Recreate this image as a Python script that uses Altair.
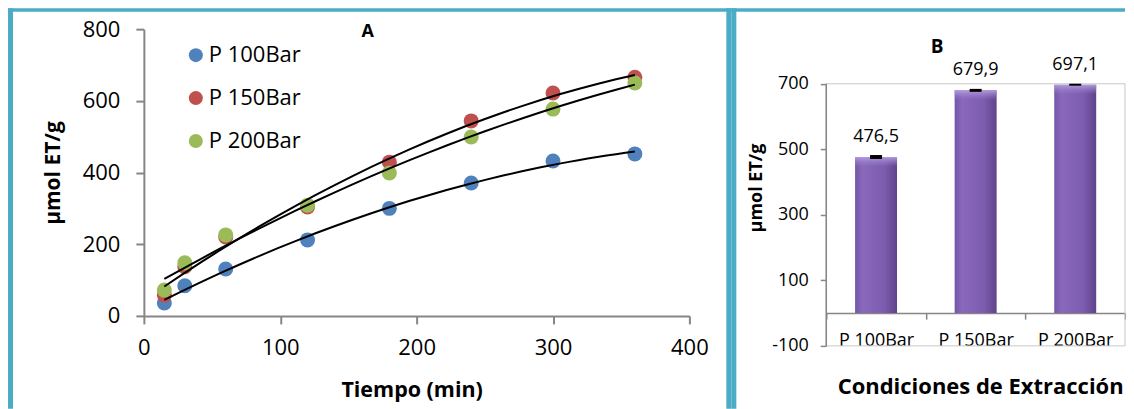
import altair as alt
import pandas as pd

# ---------------- data ----------------
times = [15, 30, 60, 120, 180, 240, 300, 360]
series_names = ["P 100Bar", "P 150Bar", "P 200Bar"]
p100 = [36, 84, 131, 212, 300, 371, 432, 452]
p150 = [58, 137, 220, 304, 429, 544, 622, 666]
p200 = [72, 148, 226, 309, 399, 499, 577, 650]
series_colors = ["#4F81BD", "#C0504D", "#9BBB59"]
x_ticks = [0, 100, 200, 300, 400]
y_ticks = [0, 200, 400, 600, 800]

bar_cats = ["P 100Bar", "P 150Bar", "P 200Bar"]
bar_values = [476.5, 679.9, 697.1]
bar_errors = [6, 4.5, 3]
bar_labels = ["476,5", "679,9", "697,1"]
b_ticks = [-100, 100, 300, 500, 700]

CYAN = "#4BACC6"
AXIS_GRAY = "#868686"
FONT = "Open Sans"

rows = []
for name, vals in zip(series_names, [p100, p150, p200]):
    for t, v in zip(times, vals):
        rows.append({"series": name, "t": t, "v": v})
df = pd.DataFrame(rows)

one = pd.DataFrame({"k": [0]})


def band(x, x2, y, y2, color=CYAN):
    return alt.Chart(one).mark_rect(color=color).encode(
        x=alt.value(x), x2=alt.value(x2), y=alt.value(y), y2=alt.value(y2)
    )


BOTTOM = 380

# ---------------- panel A ----------------
W1, H1 = 546, 287
xA = alt.X(
    "t:Q",
    scale=alt.Scale(domain=[0, 400], nice=False),
    axis=alt.Axis(
        values=x_ticks, title="Tiempo (min)", grid=False, labelFlush=False,
        domainColor=AXIS_GRAY, domainWidth=2, tickColor=AXIS_GRAY, tickWidth=2,
        tickSize=8, labelFontSize=22, labelPadding=14, labelColor="black",
        titleFontSize=21.5, titleFontWeight="bold", titlePadding=21, titleColor="black",
        titleX=268,
    ),
)
yA = alt.Y(
    "v:Q",
    scale=alt.Scale(domain=[0, 800], nice=False),
    axis=alt.Axis(
        values=y_ticks, title="µmol ET/g", grid=False, labelFlush=False,
        domainColor=AXIS_GRAY, domainWidth=2, tickColor=AXIS_GRAY, tickWidth=2,
        tickSize=8, labelFontSize=22, labelPadding=16, labelColor="black",
        titleFontSize=21, titleFontWeight="bold", titlePadding=19, titleColor="black",
    ),
)

pts = alt.Chart(df).mark_circle(size=225, opacity=1).encode(
    x=xA,
    y=yA,
    color=alt.Color(
        "series:N",
        scale=alt.Scale(domain=series_names, range=series_colors),
        legend=alt.Legend(
            title=None, orient="none", legendX=41, legendY=15,
            symbolType="circle", symbolSize=196, symbolOpacity=1,
            labelFontSize=22, labelColor="black", labelOffset=2,
            rowPadding=21, padding=0,
            labelExpr="datum.label == 'P 150Bar' ? '\u00a0P 150Bar' : datum.label",
        ),
    ),
)

fits = (
    alt.Chart(df)
    .transform_regression("t", "v", groupby=["series"], method="poly", order=2, extent=[15, 360])
    .mark_line(color="black", strokeWidth=2)
    .encode(x="t:Q", y="v:Q", detail="series:N")
)

titleA = alt.Chart(pd.DataFrame({"label": ["A"]})).mark_text(
    fontSize=18, fontWeight="bold", color="black", align="center", baseline="alphabetic"
).encode(text="label:N", x=alt.value(224), y=alt.value(8))

panelA = alt.layer(
    pts, fits, titleA,
    band(-136, -131, -21, BOTTOM),   # left border
    band(-136, 588, -21, -17.5),     # top border
    band(583, 588, -21, BOTTOM),     # right border
).properties(width=W1, height=H1)

# ---------------- panel B ----------------
W2, H2 = 299, 317
ydom = [-100, 866.7]
dfb = pd.DataFrame({"cond": bar_cats, "value": bar_values, "err": bar_errors, "label": bar_labels})

xB = alt.X(
    "cond:N", sort=bar_cats,
    scale=alt.Scale(paddingInner=0, paddingOuter=0),
    axis=alt.Axis(
        title="Condiciones de Extracción", offset=-32.8, tickBand="extent", labelAngle=0,
        domainColor=AXIS_GRAY, domainWidth=1.5, tickColor=AXIS_GRAY, tickWidth=1.5,
        tickSize=6, labelFontSize=18, labelPadding=12, labelColor="black",
        titleFontSize=22, titleFontWeight="bold", titlePadding=27, titleColor="black",
        titleX=154,
    ),
)
yB = alt.Y(
    "value:Q",
    scale=alt.Scale(domain=ydom, nice=False, zero=False),
    axis=alt.Axis(
        values=b_ticks, title="µmol ET/g", grid=False, domain=False, labelFlush=False,
        labelExpr="'' + datum.value",
        tickColor=AXIS_GRAY, tickWidth=1.5, tickSize=6,
        labelFontSize=18, labelPadding=12, labelColor="black",
        titleFontSize=18, titleFontWeight="bold", titlePadding=6, titleColor="black",
    ),
)

bar_grad = alt.Gradient(
    gradient="linear", x1=0, x2=1, y1=0, y2=0,
    stops=[
        alt.GradientStop(color="#7456A6", offset=0),
        alt.GradientStop(color="#8A69BC", offset=0.18),
        alt.GradientStop(color="#7C5CAE", offset=0.7),
        alt.GradientStop(color="#5F438C", offset=1),
    ],
)
bevel_grad = alt.Gradient(
    gradient="linear", x1=0, x2=0, y1=0, y2=1,
    stops=[
        alt.GradientStop(color="rgba(180,160,225,0.95)", offset=0),
        alt.GradientStop(color="rgba(150,120,200,0.0)", offset=1),
    ],
)

bars = alt.Chart(dfb).mark_bar(size=42, color=bar_grad).encode(
    x=xB, y=yB, y2=alt.datum(0)
)

bevel = (
    alt.Chart(dfb)
    .transform_calculate(bev="datum.value - 30")
    .mark_bar(size=42, color=bevel_grad)
    .encode(x=alt.X("cond:N", sort=bar_cats), y="value:Q", y2="bev:Q")
)

errs = (
    alt.Chart(dfb)
    .transform_calculate(lo="datum.value - datum.err", hi="datum.value + datum.err")
    .mark_bar(size=12, color="black")
    .encode(x=alt.X("cond:N", sort=bar_cats), y="lo:Q", y2="hi:Q")
)

vals = alt.Chart(dfb).mark_text(
    fontSize=18, color="black", baseline="alphabetic", align="center", dy=-15
).encode(x=alt.X("cond:N", sort=bar_cats), y="value:Q", text="label:N")

plotbox = alt.Chart(one).mark_rect(fill="white", fillOpacity=0, stroke="#C8C8C8", strokeWidth=1).encode(
    x=alt.value(0), x2=alt.value(W2), y=alt.datum(max(b_ticks)), y2=alt.datum(min(b_ticks))
)
yrule = alt.Chart(one).mark_rule(color=AXIS_GRAY, strokeWidth=1.5).encode(
    x=alt.value(0), y=alt.datum(max(b_ticks)), y2=alt.datum(min(b_ticks))
)

titleB = alt.Chart(pd.DataFrame({"label": ["B"]})).mark_text(
    fontSize=19, fontWeight="bold", color="black", align="center", baseline="alphabetic"
).encode(text="label:N", x=alt.value(111), y=alt.value(24))

panelB = alt.layer(
    bars, bevel, plotbox, yrule, errs, vals, titleB,
    band(-95, -90, -21, BOTTOM),
    band(-95, W2, -21, -17.5),
).properties(width=W2, height=H2)

chart = (
    alt.hconcat(panelA, panelB, spacing=0, padding=0, background="white")
    .configure(font=FONT, padding=0)
    .configure_view(stroke=None)
)

chart.save("out.html", embed_options={"renderer": "svg", "actions": False})
